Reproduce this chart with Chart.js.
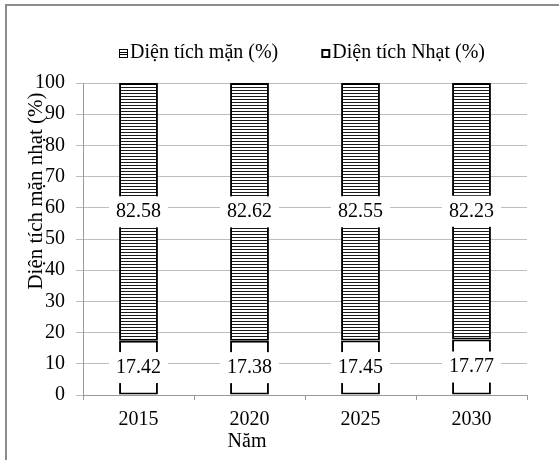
<!DOCTYPE html>
<html>
<head>
<meta charset="utf-8">
<script src="https://cdn.jsdelivr.net/npm/chart.js@4.4.1/dist/chart.umd.min.js"></script>
<style>
  html, body { margin: 0; padding: 0; background: #fff; }
  #wrap { position: relative; width: 559px; height: 460px; }
</style>
</head>
<body>
<div id="wrap"><canvas id="c" width="559" height="460"></canvas></div>
<script>
// Share of saline / fresh area by year (percent, stacked to 100)
const years = ['2015', '2020', '2025', '2030'];
const freshShare = [17.42, 17.38, 17.45, 17.77];
const salineShare = [82.58, 82.62, 82.55, 82.23];
const salineLabel = 'Diện tích mặn (%)';
const freshLabel = 'Diện tích Nhạt (%)';
const xTitle = 'Năm';
const yTitle = 'Diện tích mặn nhạt (%)';
const yMin = 0, yMax = 100, yStep = 10;

const FONT = "'Liberation Serif', 'Times New Roman', serif";
const FS = 20;

const canvas = document.getElementById('c');
const ctx0 = canvas.getContext('2d');

// horizontal hatch used for the saline series
function stripes() {
  const t = document.createElement('canvas');
  t.width = 4; t.height = 3;
  const g = t.getContext('2d');
  g.fillStyle = '#fff'; g.fillRect(0, 0, 4, 3);
  g.fillStyle = '#1a1a1a'; g.fillRect(0, 0, 4, 1);
  return ctx0.createPattern(t, 'repeat');
}
const hatch = stripes();

// white-boxed value labels in the middle of each segment
const segmentLabels = {
  id: 'segmentLabels',
  afterDatasetsDraw(chart) {
    const ctx = chart.ctx;
    ctx.save();
    ctx.font = FS + 'px ' + FONT;
    chart.data.datasets.forEach((ds, i) => {
      const meta = chart.getDatasetMeta(i);
      meta.data.forEach((bar, j) => {
        const txt = ds.data[j].toFixed(2);
        const cy = (bar.y + bar.base) / 2;
        const w = ctx.measureText(txt).width + 14;
        const h = 31;
        ctx.fillStyle = '#fff';
        ctx.fillRect(bar.x - w / 2, cy - h / 2, w, h);
        ctx.fillStyle = '#000';
        ctx.textAlign = 'center';
        ctx.textBaseline = 'middle';
        ctx.fillText(txt, bar.x, cy);
      });
    });
    ctx.restore();
  }
};

// legend, axis titles and the outer frame
const decorations = {
  id: 'decorations',
  afterDraw(chart) {
    const ctx = chart.ctx;
    ctx.save();
    // frame
    ctx.fillStyle = '#8c8c8c';
    ctx.fillRect(5, 4, 554, 2);
    ctx.fillRect(5, 4, 2, 456);

    ctx.font = FS + 'px ' + FONT;
    ctx.textBaseline = 'middle';
    ctx.textAlign = 'left';

    // legend (saline first, as stacked top to bottom)
    const items = [
      { label: salineLabel, hatched: true },
      { label: freshLabel, hatched: false }
    ];
    let x = 119;
    const ly = 53;
    items.forEach(it => {
      const top = ly - 4;
      ctx.fillStyle = '#000';
      ctx.fillRect(x, top, 9, 9);
      ctx.fillStyle = '#fff';
      if (it.hatched) {
        ctx.fillRect(x + 1, top + 1, 7, 7);
        ctx.fillStyle = '#000';
        ctx.fillRect(x + 1, top + 3, 7, 1);
        ctx.fillRect(x + 1, top + 5, 7, 1);
      } else {
        ctx.fillRect(x + 2, top + 2, 5, 5);
      }
      ctx.fillStyle = '#000';
      ctx.fillText(it.label, x + 11, ly);
      x += 11 + ctx.measureText(it.label).width + 43;
    });

    // x title
    ctx.textAlign = 'center';
    ctx.fillText(xTitle, 247, 442);

    // y title
    ctx.font = '21px ' + FONT;
    ctx.translate(36, 191);
    ctx.rotate(-Math.PI / 2);
    ctx.fillText(yTitle, 0, 0);
    ctx.restore();
  }
};

new Chart(canvas, {
  type: 'bar',
  data: {
    labels: years,
    datasets: [
      {
        label: freshLabel,
        data: freshShare,
        backgroundColor: '#ffffff',
        borderColor: '#000',
        borderWidth: 2,
        borderSkipped: false,
        barPercentage: 0.35,
        categoryPercentage: 1
      },
      {
        label: salineLabel,
        data: salineShare,
        backgroundColor: hatch,
        borderColor: '#000',
        borderWidth: 2,
        borderSkipped: false,
        barPercentage: 0.35,
        categoryPercentage: 1
      }
    ]
  },
  options: {
    responsive: false,
    animation: false,
    devicePixelRatio: 1,
    layout: { padding: { top: 83, right: 32, left: 0, bottom: 0 } },
    plugins: {
      legend: { display: false },
      tooltip: { enabled: false }
    },
    scales: {
      x: {
        stacked: true,
        afterFit(s) { s.height = 65; },
        grid: {
          offset: true,
          drawOnChartArea: false,
          drawTicks: true,
          tickLength: 5,
          color: '#999'
        },
        border: { color: '#999', width: 1 },
        ticks: {
          color: '#000',
          padding: 8,
          font: { family: FONT, size: FS }
        }
      },
      y: {
        stacked: true,
        min: yMin,
        max: yMax,
        afterFit(s) { s.width = 83; },
        grid: {
          color: '#bdbdbd',
          tickLength: 7,
          lineWidth: 1
        },
        border: { color: '#999', width: 1 },
        ticks: {
          stepSize: yStep,
          color: '#000',
          padding: 11,
          font: { family: FONT, size: FS }
        }
      }
    }
  },
  plugins: [segmentLabels, decorations]
});
</script>
</body>
</html>
